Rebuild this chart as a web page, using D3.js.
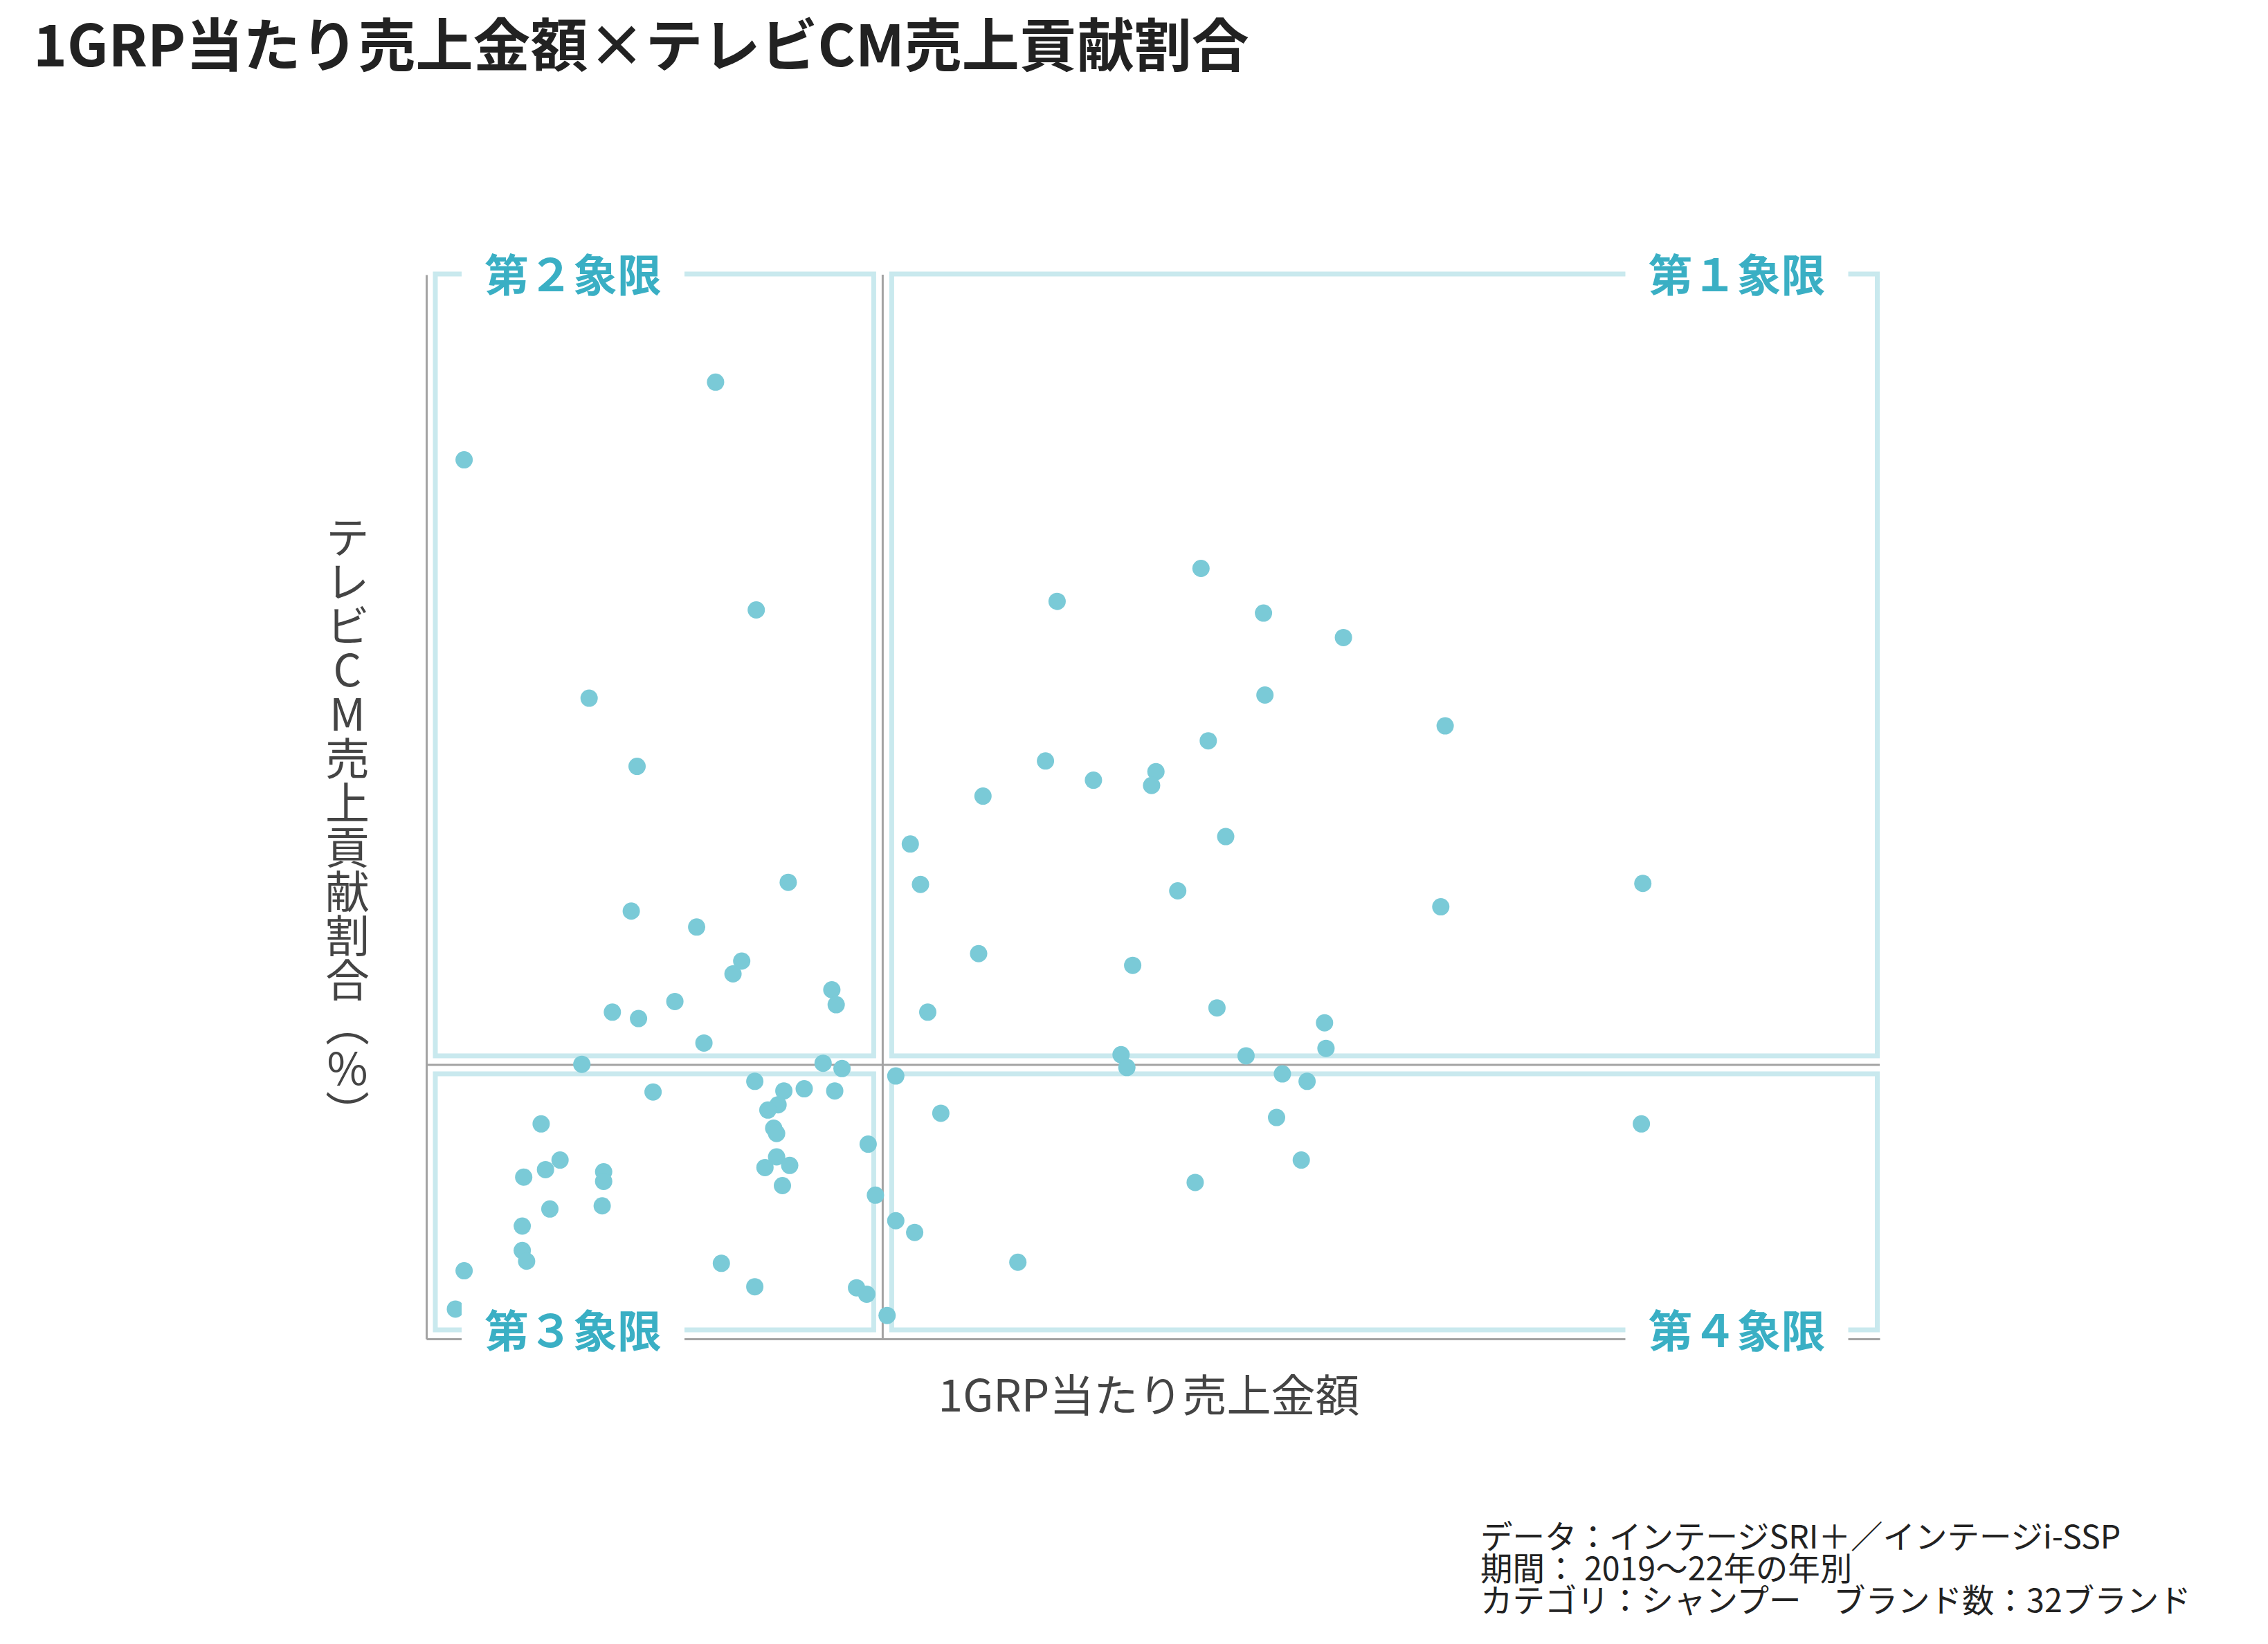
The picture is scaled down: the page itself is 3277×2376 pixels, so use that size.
<!DOCTYPE html>
<html>
<head>
<meta charset="utf-8">
<script src="https://cdn.jsdelivr.net/npm/d3@7"></script>
<style>
  body { margin: 0; background: #fff; }
  text { font-family: "Noto Sans CJK JP", "Noto Sans", sans-serif; }
</style>
</head>
<body>
<div class="box"></div>
<script>
// 1GRP当たり売上金額 (relative index, axis shown without ticks)
const grpSales = [
  19.9, 2.6, 22.7, 11.2, 14.5, 24.9, 14.1, 18.6, 21.7, 21.1,
  27.9, 28.2, 17.1, 12.8, 14.6, 19.1, 27.3, 10.7, 28.6,
  22.6, 15.6, 24.6, 26.0, 28.1, 24.2, 23.5, 7.9, 23.9, 24.1,
  30.4, 9.2, 8.2, 6.7, 12.2, 12.2, 24.1, 25.0, 23.3, 24.5,
  30.9, 8.5, 12.1, 6.6, 6.6, 6.9, 2.6, 20.3, 22.6, 29.6,
  30.3, 2.0, 31.7,
  32.3, 32.3, 33.6,
  53.3, 43.4, 57.6, 63.1, 57.7, 70.1, 53.8, 42.6, 45.9, 50.2,
  49.9, 38.3, 33.3, 55.0, 34.0, 83.7, 51.7, 69.8, 38.0, 48.6,
  54.4, 34.5, 61.8, 61.9, 47.8, 56.4, 48.2,
  58.9, 60.6, 35.4, 58.5, 83.6, 60.2, 52.9, 40.7
]
// テレビCM売上貢献割合 (relative index)
const cmShare = [
  89.9, 82.6, 68.5, 60.2, 53.8, 42.9, 40.2, 38.7, 35.5, 34.3,
  32.8, 31.4, 31.7, 30.7, 30.1, 27.8, 25.9, 25.8, 25.4,
  24.2, 23.2, 23.3, 23.5, 23.3, 22.0, 21.5, 20.2, 19.8, 19.3,
  18.3, 16.8, 15.9, 15.2, 15.7, 14.8, 17.1, 16.3, 16.1, 14.4,
  13.5, 12.2, 12.5, 10.6, 8.3, 7.3, 6.4, 7.1, 4.9, 4.8,
  4.2, 2.8, 2.2,
  24.7, 11.1, 10.0,
  72.4, 69.3, 68.2, 65.9, 60.5, 57.6, 56.2, 54.3, 52.5, 53.3,
  52.0, 51.0, 46.5, 47.2, 42.7, 42.8, 42.1, 40.6, 36.2, 35.1,
  31.1, 30.7, 29.7, 27.3, 26.7, 26.6, 25.5,
  24.9, 24.2, 21.2, 20.8, 20.2, 16.8, 14.7, 7.2
]

// median split
const medianX = 31.4
const medianY = 25.75

const quadrantLabels = ["第１象限", "第２象限", "第３象限", "第４象限"]

const titleText = "1GRP当たり売上金額×テレビCM売上貢献割合"
const xTitle = "1GRP当たり売上金額"
const yTitle = "テレビCM売上貢献割合（%）"
const captionLines = [
  "データ：インテージSRI＋／インテージi-SSP",
  "期間： 2019～22年の年別",
  "カテゴリ：シャンプー　ブランド数：32ブランド"
]

const width = 3277
const height = 2376

const x = d3.scaleLinear().domain([0, 100]).range([616, 2716])
const y = d3.scaleLinear().domain([0, 100]).range([1935, 397])

const svg = d3.select('.box')
  .append('svg')
  .attr('width', width)
  .attr('height', height)

const gray = '#a3a3a3'
const boxColor = '#c9e9ee'
const labelColor = '#3aafc4'
const dotColor = '#7acad7'

// axis lines (no ticks) and median lines
const axisX = d3.axisBottom(x).tickValues([]).tickSizeOuter(0)
const axisY = d3.axisLeft(y).tickValues([]).tickSizeOuter(0)
svg.append('g').attr('transform', `translate(0,${y(0)})`).call(axisX)
svg.append('g').attr('transform', `translate(${x(0)},0)`).call(axisY)
svg.selectAll('.domain').attr('stroke', gray).attr('stroke-width', 3)

svg.append('line')
  .attr('x1', x(medianX)).attr('x2', x(medianX))
  .attr('y1', y(100)).attr('y2', y(0))
  .attr('stroke', gray).attr('stroke-width', 3)
svg.append('line')
  .attr('x1', x(0)).attr('x2', x(100))
  .attr('y1', y(medianY)).attr('y2', y(medianY))
  .attr('stroke', gray).attr('stroke-width', 3)

// quadrant frames
const pad = 13
const quads = [
  { x0: x(medianX) + pad, x1: x(100) - 3.5, y0: y(100) - 1, y1: y(medianY) - pad, label: quadrantLabels[0], side: 'right', top: true },
  { x0: x(0) + pad, x1: x(medianX) - pad, y0: y(100) - 1, y1: y(medianY) - pad, label: quadrantLabels[1], side: 'left', top: true },
  { x0: x(0) + pad, x1: x(medianX) - pad, y0: y(medianY) + pad, y1: y(0) - pad, label: quadrantLabels[2], side: 'left', top: false },
  { x0: x(medianX) + pad, x1: x(100) - 3.5, y0: y(medianY) + pad, y1: y(0) - pad, label: quadrantLabels[3], side: 'right', top: false }
]

svg.selectAll('rect.quad')
  .data(quads).enter()
  .append('rect')
  .attr('class', 'quad')
  .attr('x', d => d.x0)
  .attr('y', d => d.y0)
  .attr('width', d => d.x1 - d.x0)
  .attr('height', d => d.y1 - d.y0)
  .attr('fill', 'none')
  .attr('stroke', boxColor)
  .attr('stroke-width', 7)

// points
const points = grpSales.map((v, i) => ({ gx: v, cy: cmShare[i] }))
svg.selectAll('circle')
  .data(points).enter()
  .append('circle')
  .attr('cx', d => x(d.gx))
  .attr('cy', d => y(d.cy))
  .attr('r', 12.5)
  .attr('fill', dotColor)

// quadrant labels with white background
const labelG = svg.selectAll('g.qlabel')
  .data(quads).enter()
  .append('g')
  .attr('class', 'qlabel')

labelG.each(function (d) {
  const g = d3.select(this)
  const cy = d.top ? d.y0 + 2 : d.y1 + 2
  const tx = d.side === 'left' ? d.x0 + 71 : d.x1 - 75
  const t = g.append('text')
    .attr('x', tx)
    .attr('y', cy)
    .attr('dy', '0.36em')
    .attr('text-anchor', d.side === 'left' ? 'start' : 'end')
    .attr('font-size', 64)
    .attr('font-weight', 700)
    .attr('fill', labelColor)
    .text(d.label)
  const bb = t.node().getBBox()
  g.insert('rect', 'text')
    .attr('x', bb.x - 33)
    .attr('y', cy - 42)
    .attr('width', bb.width + 66)
    .attr('height', 84)
    .attr('fill', '#fff')
})

// titles
svg.append('text')
  .attr('x', 48)
  .attr('y', 96)
  .attr('font-size', 83)
  .attr('font-weight', 700)
  .attr('fill', '#222')
  .text(titleText)

svg.append('text')
  .attr('x', (x(0) + x(100)) / 2 - 6)
  .attr('y', 2040)
  .attr('text-anchor', 'middle')
  .attr('font-size', 64)
  .attr('fill', '#444')
  .text(xTitle)

svg.append('text')
  .attr('x', 502)
  .attr('y', 1192)
  .attr('text-anchor', 'middle')
  .attr('font-size', 64)
  .attr('fill', '#444')
  .style('writing-mode', 'vertical-rl')
  .style('text-orientation', 'upright')
  .text(yTitle)

svg.append('g')
  .selectAll('text')
  .data(captionLines).enter()
  .append('text')
  .attr('x', 2139)
  .attr('y', (d, i) => 2238 + i * 46)
  .attr('font-size', 46.5)
  .attr('fill', '#222')
  .text(d => d)
</script>
</body>
</html>
